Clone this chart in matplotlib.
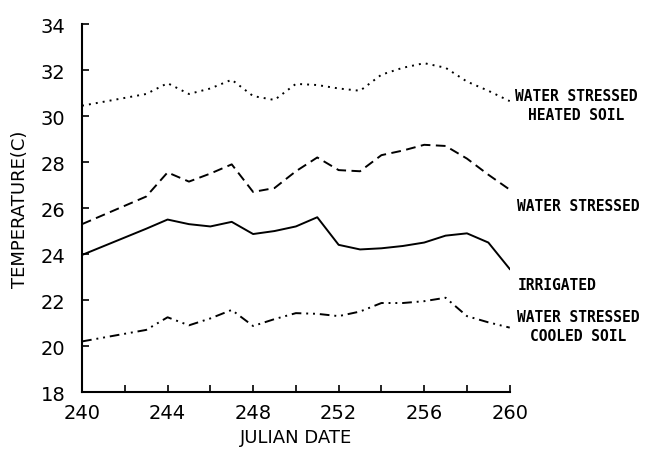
import matplotlib
matplotlib.use("Agg")
import matplotlib.pyplot as plt
from matplotlib.ticker import MultipleLocator

# Julian days and temperatures (C)
days = [240, 243, 244, 245, 246, 247, 248, 249, 250, 251, 252,
        253, 254, 255, 256, 257, 258, 259, 260]
heated = [30.45, 30.96, 31.43, 30.96, 31.2, 31.58, 30.87, 30.7, 31.4, 31.35, 31.2,
          31.1, 31.8, 32.1, 32.3, 32.1, 31.5, 31.1, 30.65]
stressed = [25.3, 26.5, 27.55, 27.15, 27.5, 27.9, 26.7, 26.87, 27.6, 28.2, 27.65,
            27.6, 28.3, 28.5, 28.75, 28.7, 28.15, 27.45, 26.8]
irrigated = [23.96, 25.1, 25.5, 25.3, 25.2, 25.4, 24.87, 25.0, 25.2, 25.6, 24.4,
             24.2, 24.25, 24.35, 24.5, 24.8, 24.9, 24.5, 23.35]
cooled = [20.2, 20.7, 21.25, 20.9, 21.2, 21.57, 20.87, 21.17, 21.43, 21.4, 21.3,
          21.5, 21.87, 21.87, 21.95, 22.1, 21.3, 21.03, 20.8]

fig = plt.figure(figsize=(6.51, 4.52), dpi=100)
ax = fig.add_axes([0.126, 0.1305, 0.657, 0.814])

ax.plot(days, heated, color="black", lw=1.4, ls=(0, (1, 2.6)))
ax.plot(days, stressed, color="black", lw=1.4, ls=(0, (5, 2.8)))
ax.plot(days, irrigated, color="black", lw=1.4, ls="-")
ax.plot(days, cooled, color="black", lw=1.4, ls=(0, (5, 2.5, 1, 2.5, 1, 2.5)))

ax.set_xlim(240, 260)
ax.set_ylim(18, 34)
ax.xaxis.set_major_locator(MultipleLocator(4))
ax.xaxis.set_minor_locator(MultipleLocator(2))
ax.yaxis.set_major_locator(MultipleLocator(2))
ax.tick_params(direction="in", length=5, width=1.2, labelsize=14)
ax.tick_params(which="minor", direction="in", length=5, width=1.2)
ax.tick_params(axis="y", pad=12)
ax.tick_params(axis="x", pad=8)

for s in ["top", "right"]:
    ax.spines[s].set_visible(False)
for s in ["left", "bottom"]:
    ax.spines[s].set_linewidth(1.5)

ax.set_xlabel("JULIAN DATE", fontsize=13, labelpad=4)
ax.set_ylabel("TEMPERATURE(C)", fontsize=13, labelpad=8)

lab = dict(fontsize=10.5, fontweight="bold", family="DejaVu Sans Mono",
           ha="center", va="center", transform=fig.transFigure, clip_on=False)
ax.text(576 / 651, 1 - 106 / 452, "WATER STRESSED\nHEATED SOIL", linespacing=1.3, **lab)
ax.text(578 / 651, 1 - 207 / 452, "WATER STRESSED", **lab)
ax.text(557 / 651, 1 - 285 / 452, "IRRIGATED", **lab)
ax.text(578 / 651, 1 - 327 / 452, "WATER STRESSED\nCOOLED SOIL", linespacing=1.3, **lab)

fig.savefig("out.png", dpi=100)
